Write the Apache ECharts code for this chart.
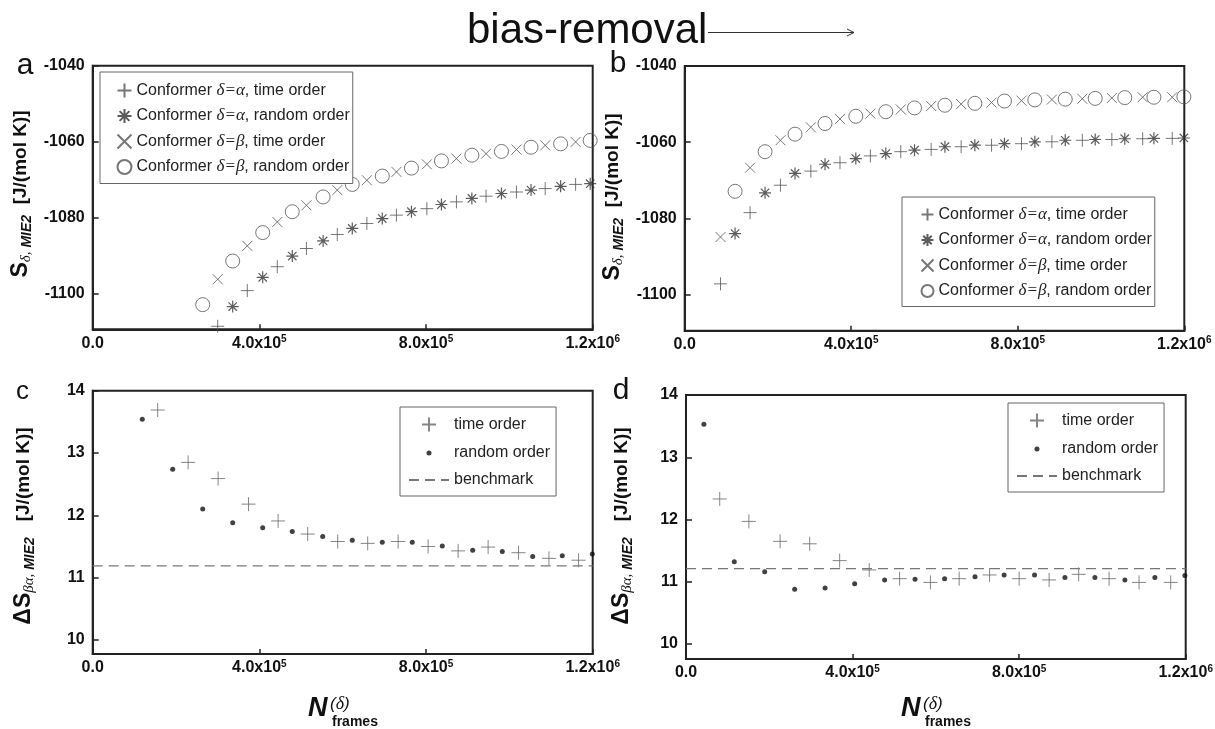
<!DOCTYPE html>
<html>
<head>
<meta charset="utf-8">
<script src="https://cdn.jsdelivr.net/npm/echarts@6/dist/echarts.min.js"></script>
<style>html,body{margin:0;padding:0;background:#fff}#c{width:1215px;height:729px}</style>
</head>
<body>
<div id="c"></div>
<script>
// ---------- data ----------
const namesTop = ['Conformer δ=α, time order', 'Conformer δ=α, random order', 'Conformer δ=β, time order', 'Conformer δ=β, random order'];
const namesBottom = ['time order', 'random order', 'benchmark'];

const xTicks = [0, 400000, 800000, 1200000];
const xTickMant = ['0.0', '4.0x10', '8.0x10', '1.2x10'];
const xTickExp = ['', '5', '5', '6'];
const yTicksTop = [-1040, -1060, -1080, -1100];
const yTicksBottom = [10, 11, 12, 13, 14];

// panel a
const aTimeX = [300000, 371000, 443000, 513000, 587000, 658000, 729000, 802000, 873000, 944000, 1017000, 1086000, 1159000];
const aAlphaTime = [-1108.7, -1099.3, -1093.0, -1088.2, -1084.5, -1081.6, -1079.4, -1077.7, -1075.9, -1074.4, -1073.3, -1072.4, -1071.3];
const aBetaTime = [-1096.3, -1087.5, -1081.2, -1076.8, -1072.8, -1070.2, -1068.0, -1066.0, -1064.5, -1063.2, -1062.1, -1061.0, -1060.1];
const aRandX = [264000, 336000, 408000, 479000, 553000, 623000, 695000, 765000, 837000, 910000, 981000, 1052000, 1123000, 1194000];
const aAlphaRand = [null, -1103.5, -1095.8, -1090.2, -1086.2, -1082.9, -1080.3, -1078.5, -1076.6, -1075.0, -1073.7, -1072.8, -1071.8, -1071.1];
const aBetaRand = [-1103.0, -1091.5, -1084.0, -1078.5, -1074.6, -1071.3, -1069.1, -1067.0, -1065.1, -1063.6, -1062.6, -1061.5, -1060.6, -1059.7];

// panel b
const bTimeX = [86000, 157000, 230000, 303000, 373000, 446000, 519000, 592000, 664000, 737000, 809000, 882000, 955000, 1026000, 1100000, 1171000];
const bAlphaTime = [-1097.2, -1078.5, -1071.3, -1067.6, -1065.4, -1063.6, -1062.5, -1061.9, -1061.2, -1060.8, -1060.4, -1059.9, -1059.5, -1059.3, -1059.1, -1059.0];
const bBetaTime = [-1084.9, -1066.7, -1059.5, -1056.1, -1053.9, -1052.5, -1051.4, -1050.5, -1050.0, -1049.6, -1049.1, -1048.8, -1048.6, -1048.4, -1048.2, -1048.2];
const bRandX = [121000, 193000, 265000, 337000, 411000, 483000, 552000, 625000, 697000, 768000, 841000, 914000, 986000, 1057000, 1127000, 1199000];
const bAlphaRand = [-1084.0, -1073.3, -1068.2, -1065.8, -1064.3, -1063.0, -1062.1, -1061.2, -1060.8, -1060.4, -1059.9, -1059.5, -1059.3, -1059.1, -1059.0, -1058.9];
const bBetaRand = [-1072.9, -1062.5, -1057.9, -1055.1, -1053.2, -1052.0, -1051.0, -1050.3, -1049.8, -1049.2, -1048.9, -1048.7, -1048.5, -1048.3, -1048.2, -1048.1];

// panel c
const cTimeX = [156000, 229000, 301000, 374000, 445000, 516000, 588000, 660000, 733000, 805000, 877000, 949000, 1022000, 1095000, 1166000];
const cTime = [13.69, 12.85, 12.59, 12.18, 11.91, 11.70, 11.58, 11.55, 11.58, 11.50, 11.43, 11.49, 11.40, 11.31, 11.28];
const cRandX = [119000, 192000, 264000, 336000, 408000, 479000, 552000, 623000, 695000, 767000, 839000, 912000, 983000, 1056000, 1127000, 1199000];
const cRand = [13.54, 12.74, 12.10, 11.88, 11.80, 11.74, 11.66, 11.60, 11.57, 11.57, 11.51, 11.44, 11.42, 11.34, 11.35, 11.38];
const cBenchX = [0, 1200000];
const cBench = [11.19, 11.19];

// panel d
const dTimeX = [81000, 151000, 226000, 297000, 369000, 440000, 513000, 587000, 656000, 729000, 800000, 872000, 943000, 1016000, 1088000, 1164000];
const dTime = [12.33, 11.97, 11.65, 11.61, 11.34, 11.19, 11.05, 10.99, 11.05, 11.11, 11.05, 11.03, 11.12, 11.05, 10.99, 10.99];
const dRandX = [43000, 116000, 189000, 261000, 334000, 405000, 477000, 550000, 621000, 694000, 764000, 837000, 910000, 982000, 1054000, 1126000, 1198000];
const dRand = [13.53, 11.32, 11.16, 10.88, 10.90, 10.97, 11.03, 11.04, 11.05, 11.08, 11.11, 11.11, 11.07, 11.07, 11.03, 11.07, 11.10];
const dBenchX = [0, 1200000];
const dBench = [11.21, 11.21];

// ---------- helpers ----------
function zip(xs, ys) {
  const out = [];
  for (let i = 0; i < xs.length; i++) if (ys[i] !== null && ys[i] !== undefined) out.push([xs[i], ys[i]]);
  return out;
}
const FONT = '"Liberation Sans", Arial, sans-serif';
const SERIF = '"Liberation Serif", "Times New Roman", serif';
const SYM = {
  plus: 'path://M0,5L10,5M5,0L5,10',
  cross: 'path://M0,0L10,10M10,0L0,10',
  star: 'path://M5,0L5,10M0,5L10,5M1.5,1.5L8.5,8.5M8.5,1.5L1.5,8.5',
  dotIcon: 'path://M0,0M10,10M5,3.2A1.8,1.8,0,1,1,5,6.8A1.8,1.8,0,1,1,5,3.2Z'
};
const lineSym = (c, w) => ({ color: 'none', borderColor: c, borderWidth: w });

const grids = [
  { left: 92.7, top: 65.7, width: 500, height: 263.6 },
  { left: 684.7, top: 66, width: 499.6, height: 264.7 },
  { left: 92.7, top: 390.7, width: 500, height: 263.3 },
  { left: 686, top: 395, width: 499.7, height: 264 }
].map(g => Object.assign(g, { show: true, borderColor: '#222', borderWidth: 2, backgroundColor: 'transparent', containLabel: false, outerBoundsMode: 'none' }));

function xAxis(i) {
  return {
    type: 'value', gridIndex: i, min: 0, max: 1200000,
    axisLine: { show: true, onZero: false, lineStyle: { color: '#222', width: 2 } },
    axisTick: { show: true, inside: true, length: 5, customValues: xTicks, lineStyle: { color: '#222', width: 1.5 } },
    splitLine: { show: false },
    axisLabel: {
      customValues: xTicks, margin: 5, color: '#111',
      formatter: v => { const k = xTicks.indexOf(v); return '{m|' + xTickMant[k] + '}' + (xTickExp[k] ? '{e|' + xTickExp[k] + '}' : ''); },
      rich: {
        m: { fontFamily: FONT, fontWeight: 'bold', fontSize: 16, lineHeight: 18, color: '#111' },
        e: { fontFamily: FONT, fontWeight: 'bold', fontSize: 10, lineHeight: 6, verticalAlign: 'top', color: '#111' }
      }
    }
  };
}
function yAxis(i, min, max, ticks) {
  return {
    type: 'value', gridIndex: i, min: min, max: max,
    axisLine: { show: true, onZero: false, lineStyle: { color: '#222', width: 2 } },
    axisTick: { show: true, inside: true, length: 6, customValues: ticks, lineStyle: { color: '#222', width: 1.5 } },
    splitLine: { show: false },
    axisLabel: { customValues: ticks, margin: 8, color: '#111', fontFamily: FONT, fontWeight: 'bold', fontSize: 16, formatter: v => String(v) }
  };
}

function topSeries(gi, tx, at, bt, rx, ar, br) {
  return [
    { name: namesTop[0], type: 'scatter', xAxisIndex: gi, yAxisIndex: gi, data: zip(tx, at), symbol: SYM.plus, symbolSize: 13, itemStyle: lineSym('#555', 1) },
    { name: namesTop[1], type: 'scatter', xAxisIndex: gi, yAxisIndex: gi, data: zip(rx, ar), symbol: SYM.star, symbolSize: 12, itemStyle: lineSym('#333', 1.2) },
    { name: namesTop[2], type: 'scatter', xAxisIndex: gi, yAxisIndex: gi, data: zip(tx, bt), symbol: SYM.cross, symbolSize: 10, itemStyle: lineSym('#555', 1) },
    { name: namesTop[3], type: 'scatter', xAxisIndex: gi, yAxisIndex: gi, data: zip(rx, br), symbol: 'circle', symbolSize: 14, itemStyle: lineSym('#555', 1) }
  ];
}
function bottomSeries(gi, tx, t, rx, r, bx, b) {
  return [
    { name: namesBottom[0], type: 'scatter', xAxisIndex: gi, yAxisIndex: gi, data: zip(tx, t), symbol: SYM.plus, symbolSize: 14, itemStyle: lineSym('#666', 1) },
    { name: namesBottom[1], type: 'scatter', xAxisIndex: gi, yAxisIndex: gi, data: zip(rx, r), symbol: 'circle', symbolSize: 5, itemStyle: { color: '#111' } },
    { name: namesBottom[2], type: 'line', xAxisIndex: gi, yAxisIndex: gi, data: zip(bx, b), symbol: 'none', lineStyle: { color: '#777', width: 1.2, type: [10, 6] }, itemStyle: { color: '#777' } }
  ];
}

const legendRichTop = {
  t: { fontFamily: FONT, fontSize: 16, color: '#222', lineHeight: 16 },
  g: { fontFamily: SERIF, fontStyle: 'italic', fontSize: 17, color: '#222', lineHeight: 16 }
};
function legendTop(left, top, padLeft, iw, gap) {
  return {
    orient: 'vertical', left: left, top: top, data: namesTop,
    padding: [9, 3, 7, padLeft], itemWidth: iw, itemHeight: 14, itemGap: gap,
    borderColor: '#666', borderWidth: 1, backgroundColor: '#fff', selectedMode: false,
    formatter: n => '{t|' + n.replace(/(δ=[αβ])/, '}{g|$1}{t|') + '}',
    textStyle: { rich: legendRichTop, lineHeight: 16, fontSize: 16, padding: [0, 0, 0, 0] }
  };
}
function legendBottom(left, top) {
  return {
    orient: 'vertical', left: left, top: top,
    data: [
      { name: namesBottom[0] },
      { name: namesBottom[1], icon: SYM.dotIcon },
      { name: namesBottom[2], itemStyle: { color: 'rgba(0,0,0,0)', borderColor: 'rgba(0,0,0,0)', borderWidth: 0, opacity: 0 } }
    ],
    padding: [8, 6, 8, 8], itemWidth: 40, itemHeight: 14, itemGap: 11,
    borderColor: '#666', borderWidth: 1, backgroundColor: '#fff', selectedMode: false,
    textStyle: { fontFamily: FONT, fontSize: 16, color: '#222', lineHeight: 16 }
  };
}

// axis name / label texts
const yNameRich = {
  S: { fontFamily: FONT, fontWeight: 'bold', fontSize: 23, lineHeight: 26, fill: '#111' },
  d: { fontFamily: SERIF, fontStyle: 'italic', fontSize: 15, lineHeight: 14, verticalAlign: 'bottom', fill: '#111' },
  m: { fontFamily: FONT, fontStyle: 'italic', fontWeight: 'bold', fontSize: 14, lineHeight: 14, verticalAlign: 'bottom', fill: '#111' },
  u: { fontFamily: FONT, fontWeight: 'bold', fontSize: 19, lineHeight: 26, fill: '#111' }
};
function yName(x, y, txt) {
  return { type: 'text', x: x, y: y, rotation: Math.PI / 2, silent: true,
    style: { text: txt, rich: yNameRich, align: 'center', verticalAlign: 'middle' } };
}
function xName(x) {
  return [
    { type: 'text', x: x, y: 709, silent: true, style: { text: 'N', fontFamily: FONT, fontWeight: 'bold', fontStyle: 'italic', fontSize: 27, fill: '#111', align: 'left', verticalAlign: 'middle' } },
    { type: 'text', x: x + 22, y: 704, silent: true, style: { text: '{p|(}{g|δ}{p|)}', rich: {
      p: { fontFamily: FONT, fontStyle: 'italic', fontSize: 17, fill: '#111' },
      g: { fontFamily: SERIF, fontStyle: 'italic', fontSize: 18, fill: '#111' } }, align: 'left', verticalAlign: 'middle' } },
    { type: 'text', x: x + 24, y: 722, silent: true, style: { text: 'frames', fontFamily: FONT, fontWeight: 'bold', fontSize: 14, fill: '#111', align: 'left', verticalAlign: 'middle' } }
  ];
}
function letter(x, y, t, s) {
  return { type: 'text', x: x, y: y, silent: true, style: { text: t, fontFamily: FONT, fontSize: s, fill: '#111', align: 'center', verticalAlign: 'middle' } };
}

const graphics = [
  { type: 'text', x: 467, y: 31, silent: true, style: { text: 'bias-removal', fontFamily: FONT, fontSize: 42, fill: '#111', align: 'left', verticalAlign: 'middle' } },
  { type: 'line', silent: true, shape: { x1: 708, y1: 32.5, x2: 854, y2: 32.5 }, style: { stroke: '#333', lineWidth: 1 } },
  { type: 'polyline', silent: true, shape: { points: [[847, 29], [854, 32.5], [847, 36]] }, style: { stroke: '#333', fill: null, lineWidth: 1 } },
  letter(25, 66, 'a', 30), letter(618, 64, 'b', 30), letter(22.5, 392, 'c', 26), letter(621, 391, 'd', 30),
  yName(21, 194, '{S|S}{d|δ,}{m| MIE2}{u|  [J/(mol K)]}'),
  yName(613, 197, '{S|S}{d|δ,}{m| MIE2}{u|  [J/(mol K)]}'),
  yName(24, 526, '{S|ΔS}{d|βα,}{m| MIE2}{u|   [J/(mol K)]}'),
  yName(622, 526, '{S|ΔS}{d|βα,}{m| MIE2}{u|   [J/(mol K)]}')
].concat(xName(308), xName(901));

const option = {
  backgroundColor: '#fff',
  animation: false,
  grid: grids,
  xAxis: [xAxis(0), xAxis(1), xAxis(2), xAxis(3)],
  yAxis: [yAxis(0, -1109.5, -1040, yTicksTop), yAxis(1, -1109.5, -1040, yTicksTop), yAxis(2, 9.775, 14, yTicksBottom), yAxis(3, 9.76, 14, yTicksBottom)],
  legend: [legendTop(100, 72, 15, 14, 6.5), legendTop(902, 197, 17, 12, 8.5), legendBottom(400, 407), legendBottom(1008, 403)],
  tooltip: { show: false },
  series: [].concat(
    topSeries(0, aTimeX, aAlphaTime, aBetaTime, aRandX, aAlphaRand, aBetaRand),
    topSeries(1, bTimeX, bAlphaTime, bBetaTime, bRandX, bAlphaRand, bBetaRand),
    bottomSeries(2, cTimeX, cTime, cRandX, cRand, cBenchX, cBench),
    bottomSeries(3, dTimeX, dTime, dRandX, dRand, dBenchX, dBench)
  ),
  graphic: graphics
};
const chart = echarts.init(document.getElementById('c'), null, { renderer: 'canvas' });
chart.setOption(option);
</script>
</body>
</html>
